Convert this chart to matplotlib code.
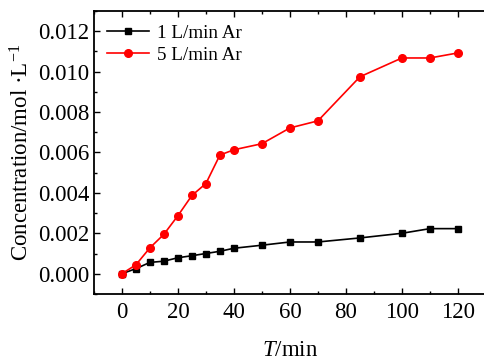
import matplotlib
matplotlib.use('Agg')
import matplotlib.pyplot as plt
from matplotlib.ticker import MultipleLocator

plt.rcParams['font.family'] = ['Liberation Serif', 'DejaVu Serif']
plt.rcParams['mathtext.fontset'] = 'custom'
plt.rcParams['mathtext.rm'] = 'Liberation Serif'
plt.rcParams['mathtext.it'] = 'Liberation Serif:italic'

t_min = [0, 5, 10, 15, 20, 25, 30, 35, 40, 50, 60, 70, 85, 100, 110, 120]
conc_1 = [0.0, 0.00025, 0.00056, 0.00062, 0.00079, 0.00089, 0.00100, 0.00111,
          0.00126, 0.00141, 0.00157, 0.00157, 0.00177, 0.00200, 0.00223, 0.00223]
conc_5 = [0.0, 0.00044, 0.00128, 0.00195, 0.00287, 0.00387, 0.00446, 0.00587,
          0.00613, 0.00643, 0.00721, 0.00756, 0.00974, 0.01067, 0.01067, 0.01092]

fig = plt.figure(figsize=(4.84, 3.62), dpi=100)
ax = fig.add_axes([0.194, 0.188, 0.81, 0.782])

ax.plot(t_min, conc_1, color='black', marker='s', markersize=5, lw=1.2, label='1 L/min Ar')
ax.plot(t_min, conc_5, color='red', marker='o', markersize=5.5, lw=1.2, label='5 L/min Ar')

ax.set_xlim(-10, 130)
ax.set_ylim(-0.001, 0.013)
ax.xaxis.set_major_locator(MultipleLocator(20))
ax.xaxis.set_minor_locator(MultipleLocator(10))
ax.yaxis.set_major_locator(MultipleLocator(0.002))
ax.yaxis.set_minor_locator(MultipleLocator(0.001))
ax.yaxis.set_major_formatter(plt.FuncFormatter(lambda v, p: '%.3f' % v))
ax.tick_params(which='both', direction='in', top=True, right=False, labelsize=16.5, width=1)
ax.tick_params(which='major', length=4)
ax.tick_params(which='minor', length=2.5)
ax.tick_params(axis='x', pad=6)
for s in ax.spines.values():
    s.set_linewidth(1.3)
ax.spines['right'].set_visible(False)

ax.set_xlabel('$T$/min', fontsize=16.5, labelpad=12)
ax.set_ylabel('Concentration/mol ·L$^{-1}$', fontsize=16.5, labelpad=3)
ax.legend(loc='upper left', frameon=False, fontsize=13.8, handlelength=2.2,
          borderaxespad=0.3, labelspacing=0.25, handletextpad=0.4)

fig.savefig('out.png', dpi=100)
